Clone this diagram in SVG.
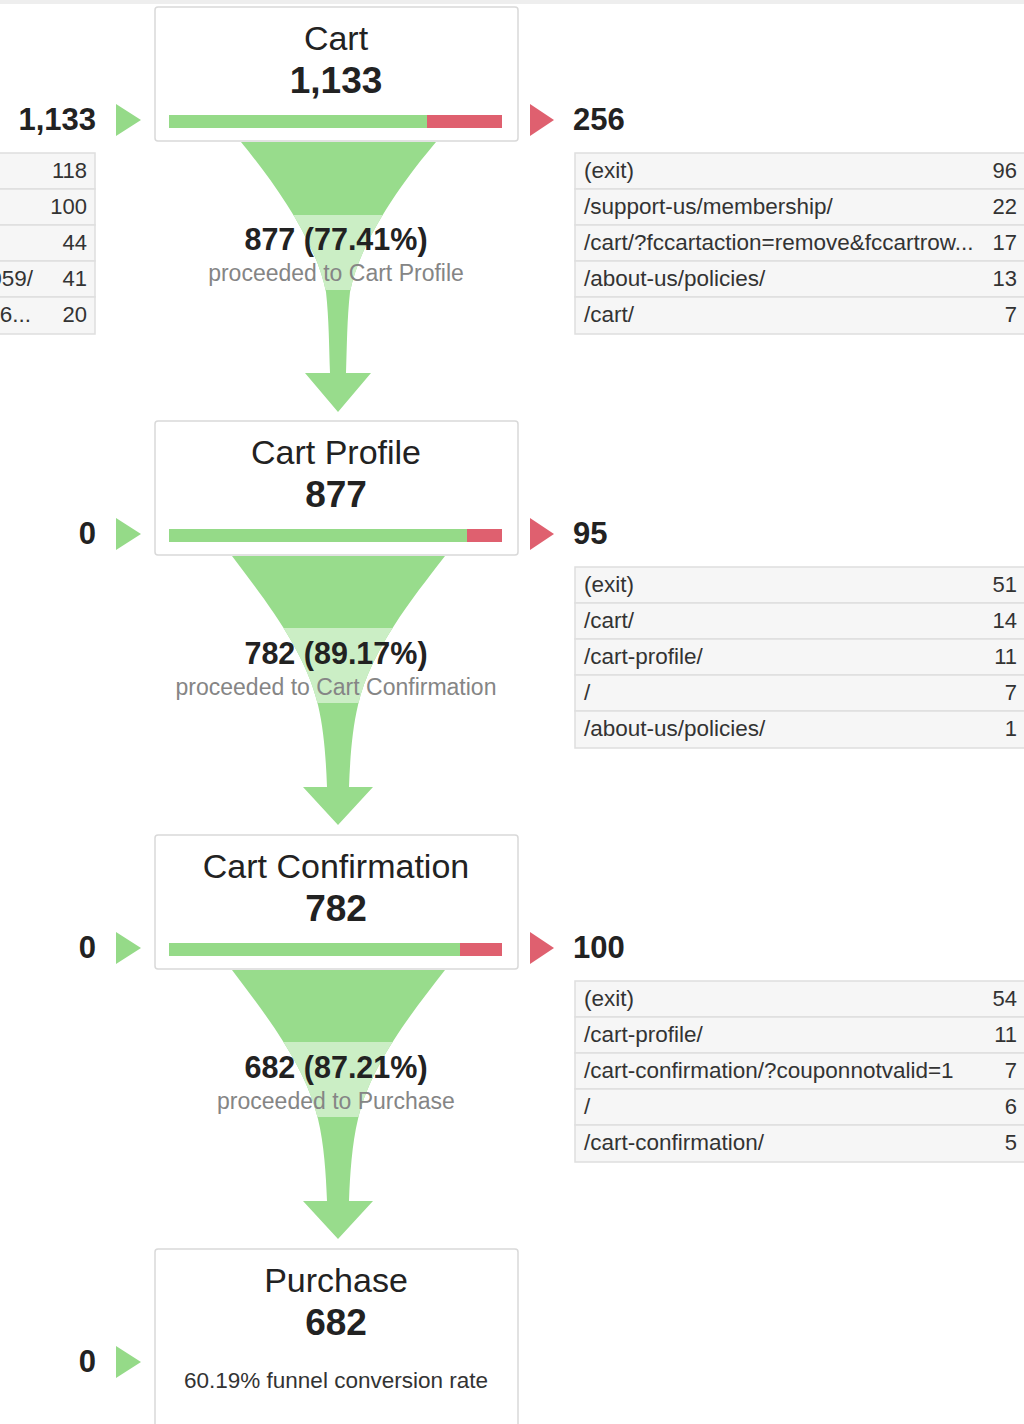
<svg xmlns="http://www.w3.org/2000/svg" xmlns:xlink="http://www.w3.org/1999/xlink" width="1024" height="1424" viewBox="0 0 1024 1424">
<style>
text{font-family:"Liberation Sans",Arial,sans-serif}
.box{fill:#fff;stroke:#d9d9d9;stroke-width:1.5}
.title{font-size:34px;fill:#222;text-anchor:middle}
.num{font-size:37px;font-weight:bold;fill:#222;text-anchor:middle}
.side{font-size:31px;font-weight:bold;fill:#222}
.pct{font-size:30.5px;font-weight:bold;fill:#222;text-anchor:middle}
.sub{font-size:23px;fill:#858585;text-anchor:middle}
.cell{font-size:22.5px;fill:#333}
.val{font-size:22px;fill:#333;text-anchor:end}
.row{fill:#f6f6f6;stroke:#dedede;stroke-width:1.5}
.g{fill:#95da88}
.r{fill:#df606f}
.funnel{fill:#98dc8c}
.band{fill:#cbeec5}
</style>
<defs>
<path id="fp1" d="M241,142 C272,180 316,240 326,292 C329,320 329,345 330,373 L305,373 L338,412 L371,373 L346,373 C347,345 347,320 350,292 C360,240 404,180 436,142 Z"/>
<path id="fp2" d="M232,556 C265,600 305,650 318,705 C324,730 326,760 327,787 L303,787 L338,825 L373,787 L349,787 C350,760 352,730 358,705 C371,650 411,600 445,556 Z"/>
<clipPath id="c1"><use xlink:href="#fp1"/></clipPath>
<clipPath id="c2"><use xlink:href="#fp2"/></clipPath>
<clipPath id="c3"><use xlink:href="#fp2" transform="translate(0,414)"/></clipPath>
<g id="tbl">
<rect class="row" x="0" y="0" width="470" height="36"/>
<rect class="row" x="0" y="36" width="470" height="36"/>
<rect class="row" x="0" y="72" width="470" height="36"/>
<rect class="row" x="0" y="108" width="470" height="36"/>
<rect class="row" x="0" y="144" width="470" height="37"/>
</g>
</defs>
<rect x="0" y="0" width="1024" height="4" fill="#eeeeee"/>

<g id="connectors">
<use xlink:href="#fp1" class="funnel"/>
<rect x="200" y="215" width="280" height="75" class="band" clip-path="url(#c1)"/>
<use xlink:href="#fp2" class="funnel"/>
<rect x="200" y="628" width="280" height="75" class="band" clip-path="url(#c2)"/>
<use xlink:href="#fp2" class="funnel" transform="translate(0,414)"/>
<rect x="200" y="1042" width="280" height="75" class="band" clip-path="url(#c3)"/>
<polygon class="g" points="116,104 141,120 116,136"/>
<polygon class="r" points="530,104 554,120 530,136"/>
<polygon class="g" points="116,518 141,534 116,550"/>
<polygon class="r" points="530,518 554,534 530,550"/>
<polygon class="g" points="116,932 141,948 116,964"/>
<polygon class="r" points="530,932 554,948 530,964"/>
<polygon class="g" points="116,1346 141,1362 116,1378"/>
</g>

<g id="funnel-labels">
<text class="pct" x="336" y="250">877 (77.41%)</text>
<text class="sub" x="336" y="281">proceeded to Cart Profile</text>
<text class="pct" x="336" y="664">782 (89.17%)</text>
<text class="sub" x="336" y="695">proceeded to Cart Confirmation</text>
<text class="pct" x="336" y="1078">682 (87.21%)</text>
<text class="sub" x="336" y="1109">proceeded to Purchase</text>
</g>

<g id="node-cart">
<rect class="box" x="155" y="7" width="363" height="134" rx="3"/>
<text class="title" x="336" y="50">Cart</text>
<text class="num" x="336" y="93">1,133</text>
<rect x="169" y="115" width="258" height="13" class="g"/>
<rect x="427" y="115" width="75" height="13" class="r"/>
<text class="side" x="96" y="130" text-anchor="end">1,133</text>
<text class="side" x="573" y="130">256</text>
</g>

<g id="entrances-cart">
<use xlink:href="#tbl" x="-375" y="153"/>
<text class="val" x="87" y="178">118</text>
<text class="val" x="87" y="214">100</text>
<text class="val" x="87" y="250">44</text>
<text class="cell" x="33" y="286" text-anchor="end">059/</text>
<text class="val" x="87" y="286">41</text>
<text class="cell" x="31" y="322" text-anchor="end">6...</text>
<text class="val" x="87" y="322">20</text>
</g>

<g id="exits-cart">
<use xlink:href="#tbl" x="575" y="153"/>
<text class="cell" x="584" y="178">(exit)</text><text class="val" x="1017" y="178">96</text>
<text class="cell" x="584" y="214">/support-us/membership/</text><text class="val" x="1017" y="214">22</text>
<text class="cell" x="584" y="250">/cart/?fccartaction=remove&amp;fccartrow...</text><text class="val" x="1017" y="250">17</text>
<text class="cell" x="584" y="286">/about-us/policies/</text><text class="val" x="1017" y="286">13</text>
<text class="cell" x="584" y="322">/cart/</text><text class="val" x="1017" y="322">7</text>
</g>

<g id="node-cart-profile">
<rect class="box" x="155" y="421" width="363" height="134" rx="3"/>
<text class="title" x="336" y="464">Cart Profile</text>
<text class="num" x="336" y="507">877</text>
<rect x="169" y="529" width="298" height="13" class="g"/>
<rect x="467" y="529" width="35" height="13" class="r"/>
<text class="side" x="96" y="544" text-anchor="end">0</text>
<text class="side" x="573" y="544">95</text>
</g>

<g id="exits-cart-profile">
<use xlink:href="#tbl" x="575" y="567"/>
<text class="cell" x="584" y="592">(exit)</text><text class="val" x="1017" y="592">51</text>
<text class="cell" x="584" y="628">/cart/</text><text class="val" x="1017" y="628">14</text>
<text class="cell" x="584" y="664">/cart-profile/</text><text class="val" x="1017" y="664">11</text>
<text class="cell" x="584" y="700">/</text><text class="val" x="1017" y="700">7</text>
<text class="cell" x="584" y="736">/about-us/policies/</text><text class="val" x="1017" y="736">1</text>
</g>

<g id="node-cart-confirmation">
<rect class="box" x="155" y="835" width="363" height="134" rx="3"/>
<text class="title" x="336" y="878">Cart Confirmation</text>
<text class="num" x="336" y="921">782</text>
<rect x="169" y="943" width="291" height="13" class="g"/>
<rect x="460" y="943" width="42" height="13" class="r"/>
<text class="side" x="96" y="958" text-anchor="end">0</text>
<text class="side" x="573" y="958">100</text>
</g>

<g id="exits-cart-confirmation">
<use xlink:href="#tbl" x="575" y="981"/>
<text class="cell" x="584" y="1006">(exit)</text><text class="val" x="1017" y="1006">54</text>
<text class="cell" x="584" y="1042">/cart-profile/</text><text class="val" x="1017" y="1042">11</text>
<text class="cell" x="584" y="1078">/cart-confirmation/?couponnotvalid=1</text><text class="val" x="1017" y="1078">7</text>
<text class="cell" x="584" y="1114">/</text><text class="val" x="1017" y="1114">6</text>
<text class="cell" x="584" y="1150">/cart-confirmation/</text><text class="val" x="1017" y="1150">5</text>
</g>

<g id="node-purchase">
<rect class="box" x="155" y="1249" width="363" height="190" rx="3"/>
<text class="title" x="336" y="1292">Purchase</text>
<text class="num" x="336" y="1335">682</text>
<text class="cell" x="336" y="1388" text-anchor="middle">60.19% funnel conversion rate</text>
<text class="side" x="96" y="1372" text-anchor="end">0</text>
</g>
</svg>
